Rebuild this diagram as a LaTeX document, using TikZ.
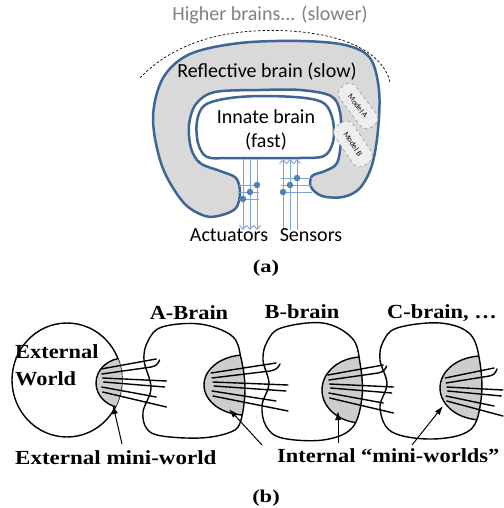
\documentclass[tikz,border=0pt]{standalone}
\usepackage{fontspec}
\usepackage{graphicx}
\newfontfamily\carl{Carlito}
\newfontfamily\tms{Liberation Serif}
\usetikzlibrary{arrows.meta}
\definecolor{bluedark}{HTML}{3F6595}
\definecolor{grayfill}{HTML}{D9D9D9}
\definecolor{lblue}{HTML}{7AA3D6}
\definecolor{dotblue}{HTML}{4F81BD}
\definecolor{txtgray}{HTML}{808080}
\definecolor{minigray}{HTML}{CDCDCD}
\definecolor{modelfill}{HTML}{EEEEEE}
\newcommand\fiberfan[3]{%
 \begin{scope}[shift={(#1,#2)}, xscale=#3]
  \draw[ink] (7,-12) -- (72,-22);
  \draw[ink] (8,-7) -- (66,-14) .. controls (72,-15) and (74,-17) .. (76,-21);
  \draw[ink] (9,-3) -- (84,0);
  \draw[ink] (10,1) -- (82,6);
  \draw[ink] (8,6) -- (72,16);
  \draw[ink] (9,11) -- (84,26);
 \end{scope}}
\begin{document}
\begin{tikzpicture}[x=1pt,y=-1pt,
 outl/.style={draw=bluedark, line width=2.5pt, line join=round},
 lbl/.style={font=\carl\fontsize{20}{24}\selectfont, anchor=base, inner sep=0pt},
 modelbox/.style={draw=gray!70, dashed, fill=modelfill, rounded corners=8pt, line width=0.8pt, font=\carl\fontsize{8}{9}\selectfont, inner sep=0pt, minimum height=20pt},
 sig/.style={draw=lblue, line width=0.9pt},
 sigarrow/.style={sig, -{Straight Barb[length=4pt,width=7pt]}},
 dotb/.style={circle, fill=dotblue, inner sep=0pt, minimum size=6.5pt},
 bl/.style={font=\tms\bfseries\fontsize{20}{24}\selectfont, anchor=base, inner sep=0pt},
 ink/.style={line width=1.4pt, line join=round, line cap=round},
 pointer/.style={line width=1pt, -{Latex[length=9pt,width=6pt]}},
]
\useasboundingbox[fill=white] (0,0) rectangle (503,508);

% ---------------- (a) ----------------
\draw[dashed, dash pattern=on 2.5pt off 2pt, line width=0.7pt]
  (140,78) .. controls (180,36) and (240,28) .. (290,31)
  .. controls (340,34) and (382,50) .. (390,82);

\draw[outl, fill=grayfill] plot[smooth cycle, tension=0.55] coordinates {
 (240,193) (236,208) (222,215) (205,216) (183,202) (162,166) (153,118) (163,78)
 (190,54) (240,43) (300,41) (345,45) (370,58) (379,90) (378,130) (372,165)
 (360,188) (343,197) (322,196) (311,187) (312,176) (325,171) (337,163) (341,140)
 (340,112) (331,96) (300,90) (260,90) (215,92) (196,104) (189,125) (191,148)
 (200,163) (220,171) (236,178)};

\draw[outl, fill=white] plot[smooth cycle, tension=0.55] coordinates {
 (207,157) (198,143) (197,121) (205,105) (230,98) (265,96) (305,98) (325,104)
 (333,121) (333,142) (324,156) (300,158) (265,158) (230,158)};

\node[modelbox, minimum width=50pt, rotate=-53] (mA) at (358,106) {Model A};
\node[modelbox, minimum width=48pt, minimum height=22pt, rotate=-56] (mB) at (353,144) {Model B};

% actuators (down) and sensors (up)
\foreach \x/\n in {243/a1,250/a2,257/a3}{
  \coordinate (\n t) at (\x,159);
  \coordinate (\n b) at (\x,230);
  \draw[sigarrow] (\n t) -- (\n b);
}
\foreach \x/\n in {283/s1,290/s2,297/s3}{
  \coordinate (\n t) at (\x,159);
  \coordinate (\n b) at (\x,230);
  \draw[sigarrow] (\n b) -- (\n t);
}
\foreach \y/\n in {199/1,192/2,185/3}{
  \coordinate (al\n) at (239,\y);
  \coordinate (ar\n) at (259,\y);
  \draw[sig] (al\n) -- (ar\n);
}
\foreach \y/\n in {192/1,185/2,178/3}{
  \coordinate (sl\n) at (281,\y);
  \coordinate (sr\n) at (312,\y);
  \draw[sig] (sl\n) -- (sr\n);
}
\node[dotb] (da1) at (243,199) {};
\node[dotb] (da2) at (250,192) {};
\node[dotb] (da3) at (257,185) {};
\node[dotb] (ds1) at (283,192) {};
\node[dotb] (ds2) at (290,185) {};
\node[dotb] (ds3) at (297,178) {};

\node[lbl, text=txtgray] (higher) at (270,21) {Higher brains... (slower)};
\node[lbl] (refl) at (267,78) {Reflective brain (slow)};
\node[lbl] (innate) at (266,123) {Innate brain};
\node[lbl] (fast) at (266,147) {(fast)};
\node[lbl] (act) at (229,241) {Actuators};
\node[lbl] (sen) at (311,241) {Sensors};

\node[font=\tms\bfseries\fontsize{18}{22}\selectfont, anchor=base, inner sep=0pt] (capa) at (266,272) {\scalebox{1.25}[1]{(a)}};

% ---------------- (b) ----------------
\draw[ink] (67,380) ellipse [x radius=55, y radius=57];
\begin{scope}
 \clip (67,380) ellipse [x radius=55, y radius=57];
 \draw[ink, fill=minigray] (124,383) ellipse [x radius=28, y radius=25];
\end{scope}

\def\Ablob{plot[smooth cycle, tension=0.6] coordinates {
 (148,341) (162,327) (200,324) (232,336) (241,358) (245,390) (240,423) (228,433)
 (200,438) (162,436) (147,429) (143,412) (151,388) (144,360)}}
\def\Bblob{plot[smooth cycle, tension=0.6] coordinates {
 (267,342) (281,328) (323,323) (352,338) (360,363) (362,397) (352,428) (323,440)
 (282,438) (266,426) (262,405) (269,384) (263,360)}}
\def\Cblob{plot[smooth cycle, tension=0.6] coordinates {
 (383,342) (397,328) (440,323) (470,334) (480,363) (481,400) (470,430) (433,439)
 (392,432) (380,408) (387,384) (380,360)}}

\begin{scope}
 \clip \Ablob;
 \draw[ink, fill=minigray] (245,385) ellipse [x radius=41, y radius=30];
\end{scope}
\draw[ink] \Ablob;
\begin{scope}
 \clip \Bblob;
 \draw[ink, fill=minigray] (362,390) ellipse [x radius=40, y radius=33];
\end{scope}
\draw[ink] \Bblob;
\begin{scope}
 \clip \Cblob;
 \draw[ink, fill=minigray] (482,388) ellipse [x radius=42, y radius=32];
\end{scope}
\draw[ink] \Cblob;

\fiberfan{95}{381}{0.85}
\fiberfan{204}{385}{1.0}
\fiberfan{322}{387}{0.85}
\fiberfan{440}{390}{0.75}

\node[bl] (extw1) at (15,358) [anchor=base west] {\scalebox{1.12}[1]{External}};
\node[bl] (extw2) at (15,385) [anchor=base west] {\scalebox{1.12}[1]{World}};
\node[bl] (abr) at (189,319) {\scalebox{1.12}[1]{A-Brain}};
\node[bl] (bbr) at (302,318) {\scalebox{1.12}[1]{B-brain}};
\node[bl] (cbr) at (442,318) {\scalebox{1.12}[1]{C-brain, \dots}};
\node[bl] (extm) at (15,464) [anchor=base west] {\scalebox{1.15}[1]{External mini-world}};
\node[bl] (intm) at (277,462) [anchor=base west] {\scalebox{1.12}[1]{Internal “mini-worlds”}};
\node[font=\tms\bfseries\fontsize{18}{22}\selectfont, anchor=base, inner sep=0pt] (capb) at (266,502) {\scalebox{1.25}[1]{(b)}};

\coordinate (tE) at (113,405);
\coordinate (fE) at (122,444);
\coordinate (tA) at (229,409);
\coordinate (fA) at (262,445);
\coordinate (tB) at (338,411);
\coordinate (fB) at (338,443);
\coordinate (tC) at (443,406);
\coordinate (fC) at (412,445);
\draw[pointer] (fE) -- (tE);
\draw[pointer] (fA) -- (tA);
\draw[pointer] (fB) -- (tB);
\draw[pointer] (fC) -- (tC);
\end{tikzpicture}
\end{document}
